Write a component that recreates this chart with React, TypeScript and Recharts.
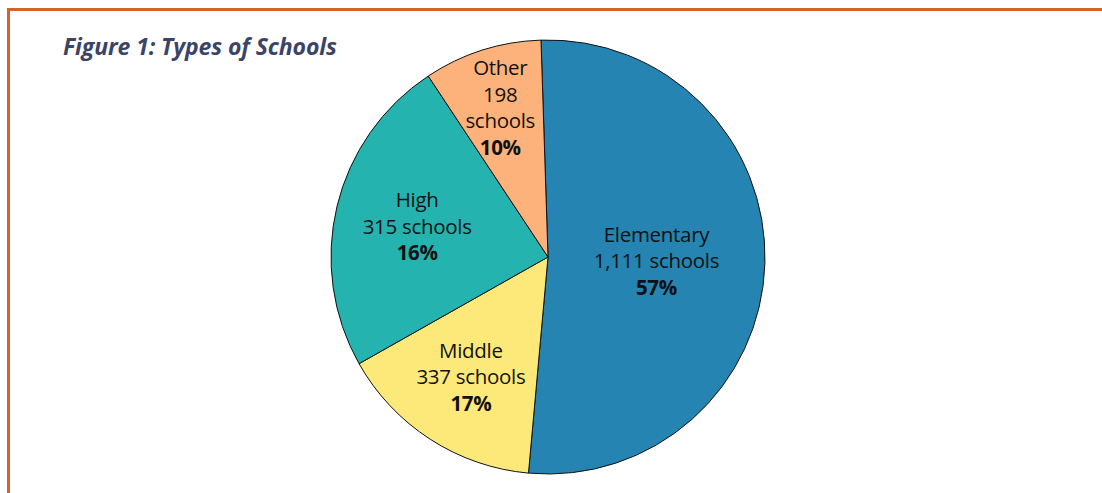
import { PieChart, Pie, Cell } from "recharts";

// slice data (angle shares as drawn) + printed labels
const categories = ["Elementary", "Middle", "High", "Other"];
const sliceShares = [52.0, 15.4, 23.9, 8.8];
const schoolCounts = ["1,111", "337", "315", "198"];
const percentLabels = ["57%", "17%", "16%", "10%"];
const colors = ["#2584b1", "#fde97a", "#25b3b0", "#fdb27b"];

// label placement (fraction of radius) per slice
const labelRadius = [0.5, 0.655, 0.62, 0.725];

const data = categories.map((name, i) => ({
    name,
    value: sliceShares[i],
    count: schoolCounts[i],
    pct: percentLabels[i],
}));

const RAD = Math.PI / 180;

const renderLabel = (props: any) => {
    const { cx, cy, midAngle, outerRadius, index } = props;
    const r = outerRadius * labelRadius[index];
    const x = cx + r * Math.cos(-midAngle * RAD);
    const y = cy + r * Math.sin(-midAngle * RAD);
    const d = data[index];
    // "Other" is narrow, so its label wraps to four lines
    const lines =
        d.name === "Other"
            ? [d.name, d.count, "schools", d.pct]
            : [d.name, `${d.count} schools`, d.pct];
    const lh = 26.5;
    const top = y - ((lines.length - 1) * lh) / 2;
    return (
        <text
            x={x}
            y={top}
            textAnchor="middle"
            dominantBaseline="central"
            fill="#111"
            fontSize={20.5}
            fontFamily="'Open Sans', sans-serif"
            letterSpacing={-0.3}
        >
            {lines.map((l, i) => (
                <tspan
                    key={i}
                    x={x}
                    dy={i === 0 ? 0 : lh}
                    fontWeight={i === lines.length - 1 ? 700 : 400}
                >
                    {l}
                </tspan>
            ))}
        </text>
    );
};

export default function App() {
    return (
        <div
            style={{
                position: "absolute",
                left: 0,
                top: 0,
                width: 1102,
                height: 493,
                background: "#fff",
                overflow: "hidden",
            }}
        >
            {/* orange frame, top + left only */}
            <div
                style={{
                    position: "absolute",
                    left: 7,
                    top: 8,
                    right: 0,
                    bottom: 0,
                    borderTop: "3px solid #d9622b",
                    borderLeft: "3px solid #d9622b",
                }}
            />
            <div
                style={{
                    position: "absolute",
                    left: 63,
                    top: 31,
                    fontFamily: "'Open Sans', sans-serif",
                    fontStyle: "italic",
                    fontWeight: 700,
                    fontSize: 23,
                    letterSpacing: -0.1,
                    lineHeight: "31px",
                    color: "#3b4466",
                }}
            >
                Figure 1: Types of Schools
            </div>
            <div style={{ position: "absolute", left: 0, top: 0 }}>
                <PieChart width={1102} height={493} margin={{ top: 0, right: 0, bottom: 0, left: 0 }}>
                    <Pie
                        data={data}
                        dataKey="value"
                        cx={548}
                        cy={257}
                        outerRadius={217}
                        startAngle={91.85}
                        endAngle={-268.15}
                        stroke="#111"
                        strokeWidth={1}
                        label={renderLabel}
                        labelLine={false}
                        isAnimationActive={false}
                    >
                        {data.map((d, i) => (
                            <Cell key={d.name} fill={colors[i]} />
                        ))}
                    </Pie>
                </PieChart>
            </div>
        </div>
    );
}
